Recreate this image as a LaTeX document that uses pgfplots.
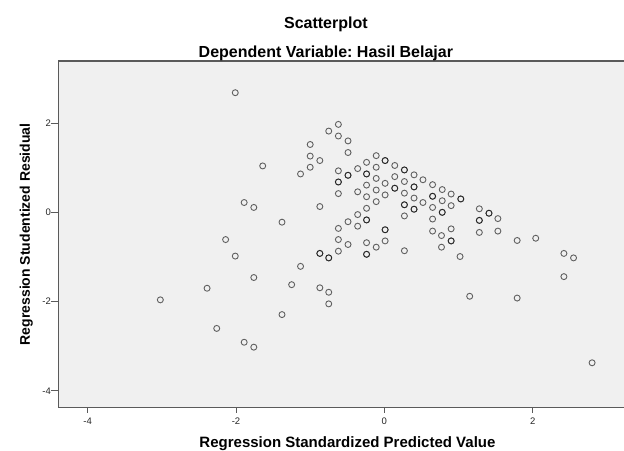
\documentclass[border=0pt]{standalone}
\usepackage{fontspec}
\setmainfont{Liberation Sans}
\usepackage{pgfplots}
\pgfplotsset{compat=1.18}
\definecolor{bg}{HTML}{F0F0F0}
\definecolor{frame}{HTML}{5A5A5A}
\frenchspacing
\begin{document}
\begin{tikzpicture}
\path[use as bounding box] (0,0) rectangle (624pt,450pt);
\begin{axis}[
 at={(58.7pt,42.3pt)}, anchor=south west,
 scale only axis, width=567.3pt, height=346.7pt,
 xmin=-4.39, xmax=3.257, ymin=-4.376, ymax=3.39,
 clip=false,
 axis background/.style={fill=bg},
 axis line style={draw=frame, line width=1.2pt},
 xtick={-4,-2,0,2}, ytick={-4,-2,0,2},
 tick align=outside, xtick pos=lower, ytick pos=left,
 minor tick num=0,
 tick style={draw=frame, line width=0.9pt},
 xtick style={/pgfplots/major tick length=5pt},
 ytick style={/pgfplots/major tick length=8pt},
 ticklabel style={font=\fontsize{9.5}{11}\selectfont, text=black!85},
 xticklabel style={yshift=-2pt},
 /pgf/number format/assume math mode=true,
 xlabel={Regression Standardized Predicted Value},
 ylabel={Regression Studentized Residual},
 xlabel style={at={(axis description cs:0.509,-0.1142)}, anchor=base, font=\bfseries\fontsize{15}{18}\selectfont},
 ylabel style={at={(axis description cs:-0.0506,0.5)}, anchor=base, font=\bfseries\fontsize{14}{17}\selectfont},
]
\addplot[only marks, mark=o, mark size=3pt, draw=black, mark options={draw opacity=0.6, line width=0.9pt}] table {
x y
-2.01 2.68
-1.00 1.52
-1.00 1.26
-0.87 1.16
-1.00 1.01
-1.64 1.04
-1.13 0.86
-1.89 0.22
-1.76 0.11
-0.87 0.13
-1.38 -0.22
-2.14 -0.61
-2.01 -0.98
-0.87 -0.92
-0.87 -0.92
-1.13 -1.21
-1.76 -1.46
-1.25 -1.62
-0.87 -1.69
-2.39 -1.70
-3.02 -1.96
-1.38 -2.29
-2.26 -2.60
-1.89 -2.91
-1.76 -3.02
-0.75 -1.02
-0.75 -1.02
-0.62 -0.87
-0.62 -0.61
-0.49 -0.72
-0.24 -0.68
-0.24 -0.94
-0.24 -0.94
-0.11 -0.78
0.01 -0.64
0.27 -0.86
0.65 -0.42
0.77 -0.52
0.77 -0.78
0.90 -0.64
0.90 -0.64
1.02 -0.99
1.28 -0.45
1.53 -0.42
1.79 -0.63
2.04 -0.58
2.42 -0.92
2.55 -1.02
2.42 -1.44
-0.75 -1.79
-0.75 -2.05
1.15 -1.88
1.79 -1.92
2.80 -3.37
-0.62 1.97
-0.75 1.82
-0.62 1.71
-0.49 1.60
-0.49 1.34
-0.11 1.27
-0.24 1.12
0.01 1.16
0.01 1.16
0.14 1.05
-0.36 0.98
-0.11 1.01
-0.62 0.93
-0.49 0.83
-0.49 0.83
-0.24 0.86
-0.24 0.86
0.27 0.95
0.27 0.95
0.40 0.84
0.52 0.73
0.65 0.62
0.78 0.51
0.90 0.41
1.03 0.30
1.03 0.30
0.14 0.80
-0.11 0.76
0.27 0.69
0.40 0.57
0.40 0.57
0.01 0.65
0.14 0.54
0.14 0.54
-0.24 0.61
-0.11 0.50
0.01 0.39
0.27 0.43
0.40 0.32
0.52 0.22
0.65 0.36
0.65 0.36
0.78 0.26
0.90 0.15
0.78 0.00
0.78 0.00
0.65 0.11
0.65 -0.15
0.27 0.17
0.27 0.17
0.40 0.07
0.40 0.07
0.27 -0.08
-0.24 0.35
-0.11 0.24
-0.36 0.46
-0.62 0.68
-0.62 0.68
-0.62 0.42
-0.24 0.09
-0.36 -0.05
-0.24 -0.17
-0.24 -0.17
-0.49 -0.21
-0.36 -0.31
-0.62 -0.36
0.01 -0.39
0.01 -0.39
0.90 -0.37
1.28 0.08
1.41 -0.02
1.41 -0.02
1.28 -0.18
1.28 -0.18
1.53 -0.14
};
\node[anchor=base, font=\bfseries\fontsize{16}{19}\selectfont, yshift=33pt] at (axis description cs:0.471,1) {Scatterplot};
\node[anchor=base, font=\bfseries\fontsize{16}{19}\selectfont, yshift=4pt] at (axis description cs:0.471,1) {Dependent Variable: Hasil Belajar};
\end{axis}
\end{tikzpicture}
\end{document}
